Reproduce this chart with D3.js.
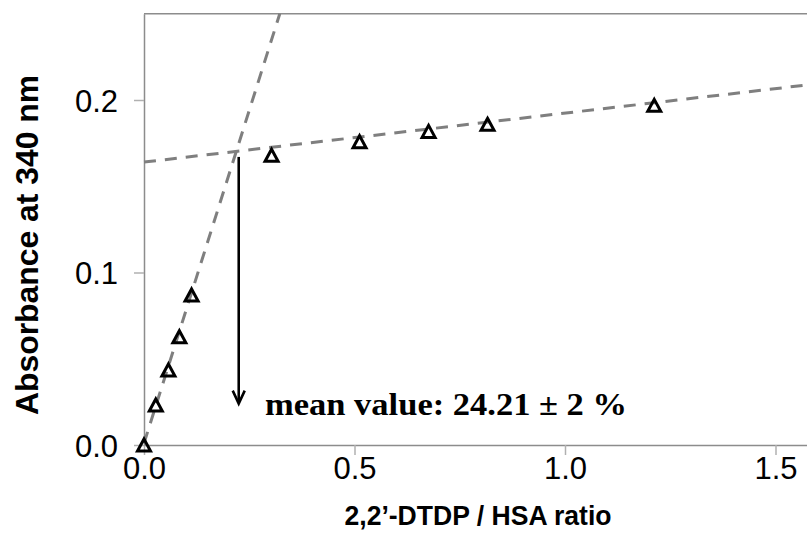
<!DOCTYPE html>
<html><head><meta charset="utf-8">
<script src="https://cdn.jsdelivr.net/npm/d3@7"></script>
<style>body{margin:0;background:#fff}svg{display:block}</style>
</head><body>
<svg id="c" width="807" height="540"></svg>
<script>
// ---- data ----
const ratio      = [0, 0.028, 0.058, 0.084, 0.113, 0.303, 0.512, 0.676, 0.816, 1.212];
const absorbance = [0, 0.0232, 0.0435, 0.0628, 0.087, 0.168, 0.1758, 0.1818, 0.1859, 0.1969];
const xTicks = [0, 0.5, 1.0, 1.5];
const yTicks = [0, 0.1, 0.2];
const xDomain = [0, 1.6];
const yDomain = [0, 0.25];
const steepFit = [0.772, 0.001];   // slope, intercept
const flatFit  = [0.0284, 0.164];  // slope, intercept
const arrowX = [0.225];
const arrowY = [0.167, 0.024];
const annotation = "mean value: 24.21 \u00b1 2 %";
const xTitle = "2,2\u2019-DTDP / HSA ratio";
const yTitle = "Absorbance at 340 nm";

const svg = d3.select("#c");
const x = d3.scaleLinear().domain(xDomain).range([144, 144 + 1.6 * 421]);
const y = d3.scaleLinear().domain(yDomain).range([445, 13.75]);
const axisColor = "#8c8c8c";

// plot border (top / right)
svg.append("path")
  .attr("d", `M${x(0)},${y(yDomain[1])}H${x(xDomain[1])}V${y(0)}`)
  .attr("fill", "none").attr("stroke", axisColor).attr("stroke-width", 1.5);

// axes
const gx = svg.append("g").attr("transform", `translate(0,${y(0)})`)
  .call(d3.axisBottom(x).tickValues(xTicks).tickFormat(d3.format(".1f")).tickSize(10).tickSizeOuter(0));
const gy = svg.append("g").attr("transform", `translate(${x(0)},0)`)
  .call(d3.axisLeft(y).tickValues(yTicks).tickFormat(d3.format(".1f")).tickSize(10).tickSizeOuter(0));
[gx, gy].forEach(g => {
  g.select(".domain").attr("stroke", axisColor).attr("stroke-width", 1.5);
  g.selectAll(".tick line").attr("stroke", "#b0b0b0").attr("stroke-width", 1.5);
  g.selectAll(".tick text").attr("font-family", "Liberation Sans, Arial, sans-serif")
    .attr("font-size", 31).attr("fill", "#000");
});
gx.selectAll(".tick text").attr("y", 12).attr("dy", "0.71em");
gy.selectAll(".tick text").attr("x", -26).attr("dy", "0.36em");

// trendlines
const steepEnd = (yDomain[1] - steepFit[1]) / steepFit[0];
const trend = [
  [[0, steepFit[1]], [steepEnd, yDomain[1]]],
  [[0, flatFit[1]], [xDomain[1], flatFit[1] + flatFit[0] * xDomain[1]]]
];
const line = d3.line().x(d => x(d[0])).y(d => y(d[1]));
svg.selectAll("path.trend").data(trend).join("path").attr("class", "trend")
  .attr("d", line).attr("fill", "none").attr("stroke", "#7f7f7f")
  .attr("stroke-width", 3).attr("stroke-dasharray", "12,9");

// markers (open triangles)
const pts = ratio.map((r, i) => [r, absorbance[i]]);
svg.selectAll("path.pt").data(pts).join("path").attr("class", "pt")
  .attr("transform", d => `translate(${x(d[0])},${y(d[1])})`)
  .attr("d", "M0,-6L6.5,6L-6.5,6Z")
  .attr("fill", "none").attr("stroke", "#000").attr("stroke-width", 3)
  .attr("stroke-linejoin", "miter");

// arrow annotation
const ax = x(arrowX[0]), ay0 = y(arrowY[0]), ay1 = y(arrowY[1]);
svg.append("line").attr("x1", ax).attr("x2", ax).attr("y1", ay0).attr("y2", ay1 - 1)
  .attr("stroke", "#000").attr("stroke-width", 2.6);
svg.append("path").attr("d", `M${ax - 6},${ay1 - 13}L${ax},${ay1}L${ax + 6},${ay1 - 13}`)
  .attr("fill", "none").attr("stroke", "#000").attr("stroke-width", 2.6);

svg.append("text").attr("x", 265).attr("y", 415)
  .attr("font-family", "Liberation Serif, Times New Roman, serif").attr("font-weight", "bold")
  .attr("font-size", 32).attr("fill", "#000")
  .attr("textLength", 362).attr("lengthAdjust", "spacingAndGlyphs").text(annotation);

// axis titles
svg.append("text").attr("x", 478).attr("y", 525).attr("text-anchor", "middle")
  .attr("font-family", "Liberation Sans, Arial, sans-serif").attr("font-weight", "bold")
  .attr("font-size", 27).attr("fill", "#000")
  .attr("textLength", 267).attr("lengthAdjust", "spacingAndGlyphs").text(xTitle);
svg.append("text").attr("transform", "translate(38,245) rotate(-90)").attr("text-anchor", "middle")
  .attr("font-family", "Liberation Sans, Arial, sans-serif").attr("font-weight", "bold")
  .attr("font-size", 32).attr("fill", "#000")
  .attr("textLength", 340).attr("lengthAdjust", "spacingAndGlyphs").text(yTitle);
</script>
</body></html>
